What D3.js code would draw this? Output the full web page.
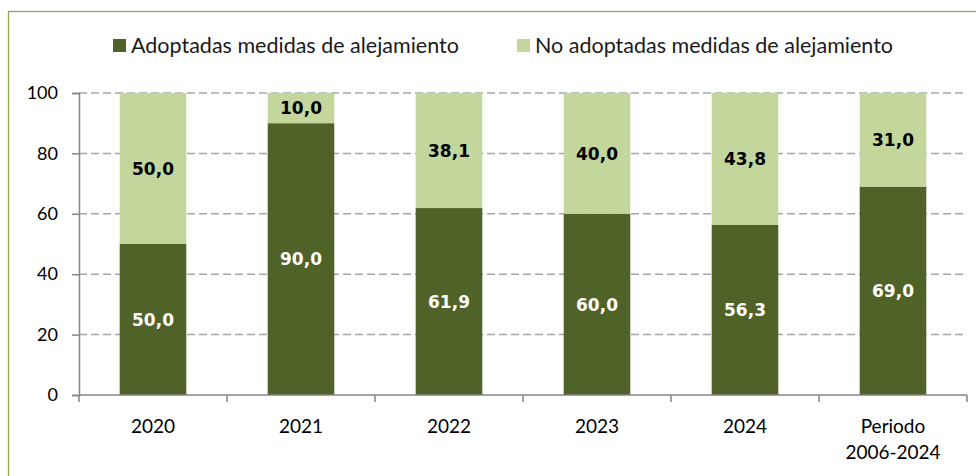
<!DOCTYPE html>
<html>
<head>
<meta charset="utf-8">
<script src="https://cdn.jsdelivr.net/npm/d3@7"></script>
<style>
  body { margin: 0; background: #fff; }
</style>
</head>
<body>
<div id="chart"></div>
<script>
// categories and values (percentages)
const categories = ["2020", "2021", "2022", "2023", "2024", "Periodo\n2006-2024"];
const adoptadas = [50.0, 90.0, 61.9, 60.0, 56.3, 69.0];
const noAdoptadas = [50.0, 10.0, 38.1, 40.0, 43.8, 31.0];
const seriesNames = ["Adoptadas medidas de alejamiento", "No adoptadas medidas de alejamiento"];
const yTicks = [0, 20, 40, 60, 80, 100];

const colors = ["#4F6228", "#C3D69B"];
const labelColors = ["#ffffff", "#000000"];

const width = 976, height = 476;
const margin = {top: 93, right: 9, bottom: 81, left: 79};

const locale = d3.formatLocale({decimal: ",", thousands: ".", grouping: [3], currency: ["", "€"]});
const fmt = locale.format(".1f");

const svg = d3.select("#chart").append("svg")
  .attr("width", width)
  .attr("height", height)
  .style("font-family", "Lato, 'Noto Sans', sans-serif");

// outer chart border (only left and top visible in the shot)
svg.append("rect")
  .attr("x", 8.5).attr("y", 11.5)
  .attr("width", width + 20).attr("height", height + 20)
  .attr("fill", "none")
  .attr("stroke", "#8DAA4F")
  .attr("stroke-width", 1.3);

const x = d3.scaleBand()
  .domain(categories)
  .range([margin.left, width - margin.right])
  .paddingInner(0.55)
  .paddingOuter(0.275);

const y = d3.scaleLinear()
  .domain([0, 100])
  .range([height - margin.bottom, margin.top]);

// gridlines
svg.append("g")
  .selectAll("line")
  .data(yTicks.filter(d => d > 0))
  .join("line")
  .attr("x1", margin.left)
  .attr("x2", width - margin.right)
  .attr("y1", d => y(d))
  .attr("y2", d => y(d))
  .attr("stroke", "#A6A6A6")
  .attr("stroke-width", 1.5)
  .attr("stroke-dasharray", "8,4");

// stacked bars
const rows = categories.map((c, i) => ({cat: c, a: adoptadas[i], n: noAdoptadas[i]}));
const stack = d3.stack().keys(["a", "n"])(rows);

const layers = svg.append("g")
  .selectAll("g")
  .data(stack)
  .join("g")
  .attr("fill", (d, i) => colors[i]);

layers.selectAll("rect")
  .data(d => d)
  .join("rect")
  .attr("x", d => x(d.data.cat))
  .attr("width", x.bandwidth())
  .attr("y", d => y(d[1]))
  .attr("height", d => y(d[0]) - y(d[1]));

// data labels
stack.forEach((layer, li) => {
  svg.append("g")
    .selectAll("text")
    .data(layer)
    .join("text")
    .attr("x", d => x(d.data.cat) + x.bandwidth() / 2)
    .attr("y", d => (y(d[0]) + y(d[1])) / 2)
    .attr("dy", "0.36em")
    .attr("text-anchor", "middle")
    .attr("fill", labelColors[li])
    .style("font-family", "'DejaVu Sans', sans-serif")
    .style("font-weight", "bold")
    .style("font-size", "17px")
    .text(d => fmt(d[1] - d[0]));
});

// y axis
const yAxis = svg.append("g")
  .attr("transform", `translate(${margin.left},0)`)
  .call(d3.axisLeft(y).tickValues(yTicks).tickSize(7).tickPadding(14));
yAxis.select(".domain").attr("stroke", "#868686").attr("stroke-width", 1.5);
yAxis.selectAll(".tick line").attr("stroke", "#868686").attr("stroke-width", 1.5);
yAxis.selectAll(".tick text")
  .style("font-family", "Lato, sans-serif")
  .style("font-size", "18px")
  .attr("fill", "#000");

// x axis (boundary ticks between categories)
const xAxisY = y(0);
const step = x.step();
const boundaries = d3.range(categories.length + 1).map(i => margin.left + i * step);
const xAxis = svg.append("g");
xAxis.append("line")
  .attr("x1", margin.left).attr("x2", width - margin.right)
  .attr("y1", xAxisY).attr("y2", xAxisY)
  .attr("stroke", "#868686").attr("stroke-width", 1.5);
xAxis.selectAll("line.tk")
  .data(boundaries)
  .join("line")
  .attr("class", "tk")
  .attr("x1", d => d).attr("x2", d => d)
  .attr("y1", xAxisY).attr("y2", xAxisY + 7)
  .attr("stroke", "#868686").attr("stroke-width", 1.5);

const xLabels = xAxis.selectAll("text")
  .data(categories)
  .join("text")
  .attr("x", d => x(d) + x.bandwidth() / 2)
  .attr("y", xAxisY + 38)
  .attr("text-anchor", "middle")
  .attr("fill", "#000")
  .style("font-size", "19px");
xLabels.each(function(d) {
  const parts = d.split("\n");
  d3.select(this).selectAll("tspan")
    .data(parts)
    .join("tspan")
    .attr("x", d3.select(this).attr("x"))
    .attr("dy", (p, i) => i === 0 ? 0 : 26)
    .text(p => p);
});

// legend
const legendX = [113, 517];
const legend = svg.append("g")
  .selectAll("g")
  .data(seriesNames)
  .join("g")
  .attr("transform", (d, i) => `translate(${legendX[i]},39)`);
legend.append("rect")
  .attr("width", 13).attr("height", 13)
  .attr("fill", (d, i) => colors[i]);
legend.append("text")
  .attr("x", 18).attr("y", 13.5)
  .attr("fill", "#1a1a1a")
  .style("font-size", "21.5px")
  .text(d => d);
</script>
</body>
</html>
